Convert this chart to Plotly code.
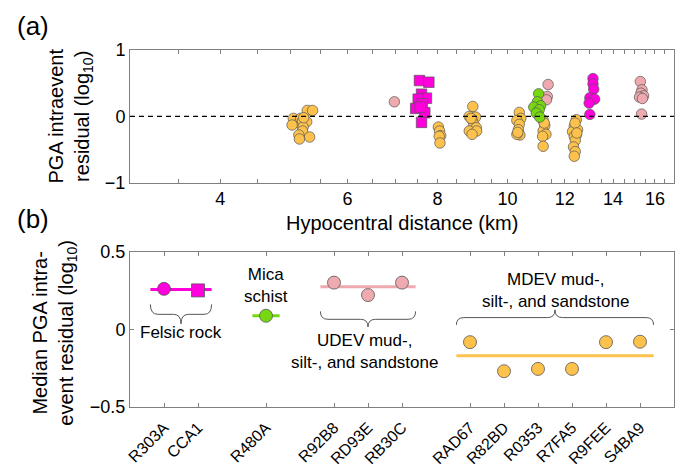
import numpy as np
import plotly.graph_objects as go

# ---------------- Panel (a) data: hypocentral distance (km) vs PGA residual ----------------
mdev_dist = [5.05, 5.14, 5.17, 5.20, 5.27, 5.03, 5.28, 5.37, 5.21, 5.20, 5.14, 5.32, 5.15, 5.22,
             8.02, 8.05, 8.08, 8.04, 8.06,
             8.95, 8.85, 9.03, 8.93, 8.98, 9.05, 8.85, 9.06, 8.93, 8.90,
             10.38, 10.43, 10.30, 10.38, 10.35, 10.40, 10.30, 10.33,
             11.20, 11.26, 11.20, 11.30, 11.18, 11.20, 11.24,
             12.45, 12.37, 12.50, 12.30, 12.45, 12.37, 12.41, 12.34, 12.41, 12.37, 12.40, 12.47]
mdev_res = [-0.03, -0.10, -0.03, -0.07, -0.08, -0.13, 0.09, 0.09, -0.16, -0.22, -0.28, -0.31, -0.34, -0.02,
            -0.16, -0.22, -0.29, -0.30, -0.40,
            0.15, 0.00, -0.01, -0.05, -0.12, -0.17, -0.22, -0.22, -0.27, -0.03,
            0.06, -0.03, -0.06, -0.12, -0.20, -0.28, -0.27, -0.24,
            -0.06, -0.14, -0.22, -0.27, -0.30, -0.45, -0.10,
            -0.05, -0.15, -0.20, -0.23, -0.28, -0.30, -0.36, -0.46, -0.53, -0.60, -0.10, -0.25]

cca1_dist = [7.55, 7.78, 7.60, 7.72, 7.52, 7.62, 7.46, 7.68, 7.57, 7.60]
cca1_res = [0.54, 0.515, 0.335, 0.275, 0.26, 0.19, 0.12, 0.055, 0.14, -0.09]

r303a_dist = [13.13, 13.13, 13.16, 13.00, 13.20, 12.97, 13.00]
r303a_res = [0.57, 0.49, 0.41, 0.28, 0.26, 0.20, 0.03]

mica_dist = [11.04, 11.00, 11.11, 10.87, 11.06, 10.96, 11.08]
mica_res = [0.34, 0.22, 0.16, 0.14, 0.10, 0.05, -0.01]

udev_dist = [6.97, 11.38, 11.35, 11.32, 15.27, 15.35, 15.30, 15.43, 15.23, 15.37, 15.33]
udev_res = [0.22, 0.48, 0.30, 0.25, 0.525, 0.40, 0.35, 0.31, 0.29, 0.27, 0.035]

dist_ticks = [3.5, 4, 4.5, 5, 5.5, 6, 6.5, 7, 7.5, 8, 8.5, 9, 9.5, 10, 10.5, 11, 11.5,
              12, 12.5, 13, 13.5, 14, 14.5, 15, 15.5, 16, 16.5]
dist_labels = {4: "4", 6: "6", 8: "8", 10: "10", 12: "12", 14: "14", 16: "16"}

# ---------------- Panel (b) data: median residual per station ----------------
felsic_stations = ["R303A", "CCA1"]
felsic_median = [0.26, 0.25]
mica_stations = ["R480A"]
mica_median = [0.087]
udev_stations = ["R92B8", "RD93E", "RB30C"]
udev_median = [0.30, 0.22, 0.30]
mdev_stations = ["RAD67", "R82BD", "R0353", "R7FA5", "R9FEE", "S4BA9"]
mdev_median = [-0.083, -0.27, -0.255, -0.255, -0.083, -0.08]

# colours
C_ORANGE = "#FDC24B"
C_MAGENTA = "#FF00DD"
C_GREEN = "#77D811"
C_PINK = "#EFAAB0"
EDGE = "#555555"

fig = go.Figure()

def add_a(x, y, color, symbol="circle"):
    fig.add_trace(go.Scatter(x=x, y=y, mode="markers", xaxis="x", yaxis="y",
                             marker=dict(color=color, size=10.5, symbol=symbol,
                                         line=dict(color=EDGE, width=0.7)),
                             showlegend=False))

add_a(udev_dist, udev_res, C_PINK)
add_a(mdev_dist, mdev_res, C_ORANGE)
add_a(cca1_dist, cca1_res, C_MAGENTA, "square")
add_a(mica_dist, mica_res, C_GREEN)
add_a(r303a_dist, r303a_res, C_MAGENTA)

# ---------------- Panel (b) positions derived from groups ----------------
groups = [
    (felsic_stations, felsic_median, C_MAGENTA, ["circle", "square"]),
    (mica_stations, mica_median, C_GREEN, ["circle"]),
    (udev_stations, udev_median, C_PINK, ["circle"] * 3),
    (mdev_stations, mdev_median, C_ORANGE, ["circle"] * 6),
]
all_pos, all_names = [], []
pos = 1
group_pos = []
for names, vals, color, syms in groups:
    p = list(range(pos, pos + len(names)))
    group_pos.append(p)
    all_pos += p
    all_names += names
    pos += len(names) + 1

for (names, vals, color, syms), p in zip(groups, group_pos):
    m = float(np.mean(vals))
    fig.add_trace(go.Scatter(x=[p[0] - 0.4, p[-1] + 0.4], y=[m, m], mode="lines",
                             xaxis="x2", yaxis="y2", line=dict(color=color, width=3),
                             showlegend=False))
    fig.add_trace(go.Scatter(x=p, y=vals, mode="markers", xaxis="x2", yaxis="y2",
                             marker=dict(color=color, size=13, symbol=syms,
                                         line=dict(color=EDGE, width=0.8)),
                             showlegend=False))


def brace(x0, x1, ye, ym, yt, r=0.22):
    xc = (x0 + x1) / 2
    return (f"M {x0},{ye} Q {x0},{ym} {x0 + r},{ym} L {xc - r},{ym} "
            f"Q {xc},{ym} {xc},{yt} Q {xc},{ym} {xc + r},{ym} "
            f"L {x1 - r},{ym} Q {x1},{ym} {x1},{ye}")

shapes = [
    dict(type="line", xref="x domain", yref="y", x0=0, x1=1, y0=0, y1=0,
         line=dict(color="black", width=1.2, dash="5px,4px")),
]
fp, up, mp = group_pos[0], group_pos[2], group_pos[3]
for path in [brace(fp[0] - 0.4, fp[-1] + 0.4, 0.16, 0.096, 0.035),
             brace(up[0] - 0.4, up[-1] + 0.4, 0.115, 0.064, 0.015),
             brace(mp[0] - 0.4, mp[-1] + 0.4, 0.028, 0.075, 0.125)]:
    shapes.append(dict(type="path", xref="x2", yref="y2", path=path,
                       line=dict(color="#555555", width=1)))

FONT = "Arial"
ann_font = dict(family=FONT, size=17, color="black")

def paper_ann(text, x, y, size, angle=0):
    return dict(text=text, x=x, y=y, xref="paper", yref="paper", xanchor="center",
                yanchor="middle", showarrow=False, textangle=angle,
                font=dict(family=FONT, size=size, color="black"))

annotations = [
    paper_ann("(a)", -0.178, 1.067, 26),
    paper_ann("(b)", -0.178, 0.527, 26),
    paper_ann("PGA intraevent<br>residual (log<sub>10</sub>)", -0.11, 0.814, 20, -90),
    paper_ann("Median PGA intra-<br>event residual (log<sub>10</sub>)", -0.138, 0.208, 20, -90),
    paper_ann("Hypocentral distance (km)", 0.5, 0.516, 20),
    dict(text="Felsic rock", x=np.mean(fp), y=-0.02, xref="x2", yref="y2",
         showarrow=False, font=ann_font),
    dict(text="Mica<br>schist", x=group_pos[1][0], y=0.28, xref="x2", yref="y2",
         showarrow=False, font=ann_font),
    dict(text="UDEV mud-,<br>silt-, and sandstone", x=np.mean(up) - 0.1, y=-0.14,
         xref="x2", yref="y2", showarrow=False, font=ann_font),
    dict(text="MDEV mud-,<br>silt-, and sandstone", x=np.mean(mp), y=0.25,
         xref="x2", yref="y2", showarrow=False, font=ann_font),
]

axis_common = dict(showline=True, linecolor="#808080", linewidth=1, mirror="ticks",
                   ticks="inside", ticklen=4, tickcolor="#808080", showgrid=False,
                   zeroline=False, automargin=False,
                   tickfont=dict(family=FONT, size=18, color="black"))

fig.update_layout(
    width=681, height=468,
    margin=dict(l=130, r=7, t=50, b=61, autoexpand=False),
    paper_bgcolor="white", plot_bgcolor="white",
    showlegend=False,
    xaxis=dict(type="log", range=[np.log10(3), np.log10(17)], domain=[0, 1], anchor="y",
               tickmode="array", tickvals=dist_ticks,
               ticktext=[dist_labels.get(t, "") for t in dist_ticks], **axis_common),
    yaxis=dict(range=[-1, 1], domain=[0.628, 1], anchor="x", tickmode="array",
               tickvals=[-1, 0, 1], ticktext=["\u22121", "0", "1"], **axis_common),
    xaxis2=dict(range=[0, 16], domain=[0, 1], anchor="y2", tickmode="array",
                tickvals=all_pos, ticktext=all_names, tickangle=-45, ticklabelstandoff=4,
                **{**axis_common, "tickfont": dict(family=FONT, size=16, color="black")}),
    yaxis2=dict(range=[-0.5, 0.5], domain=[0, 0.4355], anchor="x2", tickmode="array",
                tickvals=[-0.5, 0, 0.5], ticktext=["\u22120.5", "0", "0.5"], **axis_common),
    shapes=shapes,
    annotations=annotations,
)

fig.write_html("out.html")
